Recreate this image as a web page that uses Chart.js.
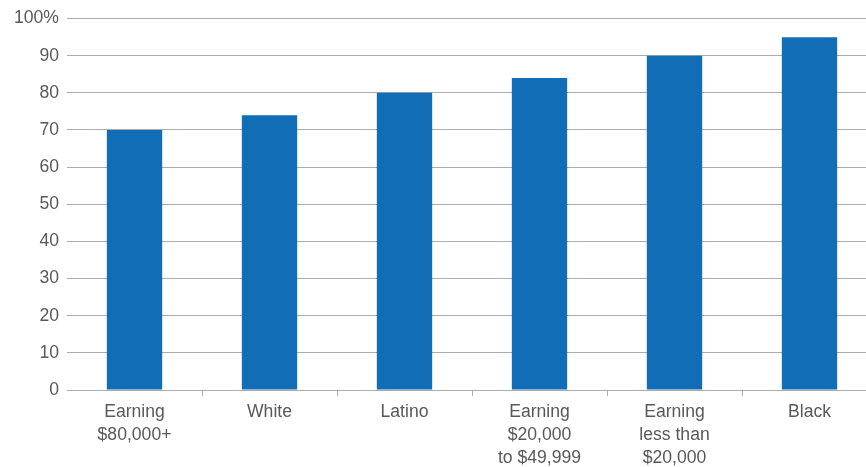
<!DOCTYPE html>
<html>
<head>
    <meta charset="UTF-8">
    <title>Share by group</title>
    <script src="https://cdn.jsdelivr.net/npm/chart.js"></script>
    <style>
        html, body {
            margin: 0;
            padding: 0;
            background: #fff;
            overflow: hidden;
        }
        .chart-container {
            position: relative;
            width: 880px;
            height: 467px;
        }
    </style>
</head>
<body>
    <div class="chart-container">
        <canvas id="groupChart"></canvas>
    </div>

    <script>
        // Categories (multi-line labels) and values in percent
        var categories = [
            ['Earning', '$80,000+'],
            'White',
            'Latino',
            ['Earning', '$20,000', 'to $49,999'],
            ['Earning', 'less than', '$20,000'],
            'Black'
        ];
        var values = [70, 74, 80, 84, 90, 95];
        var yTicks = [0, 10, 20, 30, 40, 50, 60, 70, 80, 90, 100];

        var textColor = '#595959';
        var lineColor = '#ababab';
        var labelFont = { family: '"Liberation Sans", Helvetica, Arial, sans-serif', size: 17.6 };

        var ctx = document.getElementById('groupChart').getContext('2d');
        var groupChart = new Chart(ctx, {
            type: 'bar',
            data: {
                labels: categories,
                datasets: [{
                    data: values,
                    backgroundColor: '#116db6',
                    borderWidth: 0,
                    categoryPercentage: 1,
                    barPercentage: 0.41
                }]
            },
            options: {
                responsive: true,
                maintainAspectRatio: false,
                animation: false,
                layout: {
                    padding: { top: 18, right: 3, bottom: 0, left: 0 }
                },
                plugins: {
                    legend: { display: false },
                    tooltip: { enabled: false }
                },
                scales: {
                    x: {
                        offset: true,
                        grid: {
                            offset: true,
                            drawOnChartArea: false,
                            drawTicks: true,
                            tickLength: 6,
                            color: function (c) { return c.index === 0 ? 'rgba(0,0,0,0)' : lineColor; }
                        },
                        border: { color: lineColor, width: 1 },
                        ticks: {
                            color: textColor,
                            font: Object.assign({ lineHeight: 1.33 }, labelFont),
                            padding: 4,
                            maxRotation: 0,
                            autoSkip: false
                        },
                        afterFit: function (scale) { scale.height = 77; }
                    },
                    y: {
                        min: 0,
                        max: 100,
                        afterBuildTicks: function (scale) {
                            scale.ticks = yTicks.map(function (v) { return { value: v }; });
                        },
                        grid: {
                            color: lineColor,
                            drawTicks: false
                        },
                        border: { display: false },
                        ticks: {
                            color: textColor,
                            font: labelFont,
                            padding: 8,
                            callback: function (v) { return v === 100 ? '100%' : v; }
                        },
                        afterFit: function (scale) { scale.width = 67; }
                    }
                }
            }
        });
    </script>
</body>
</html>
